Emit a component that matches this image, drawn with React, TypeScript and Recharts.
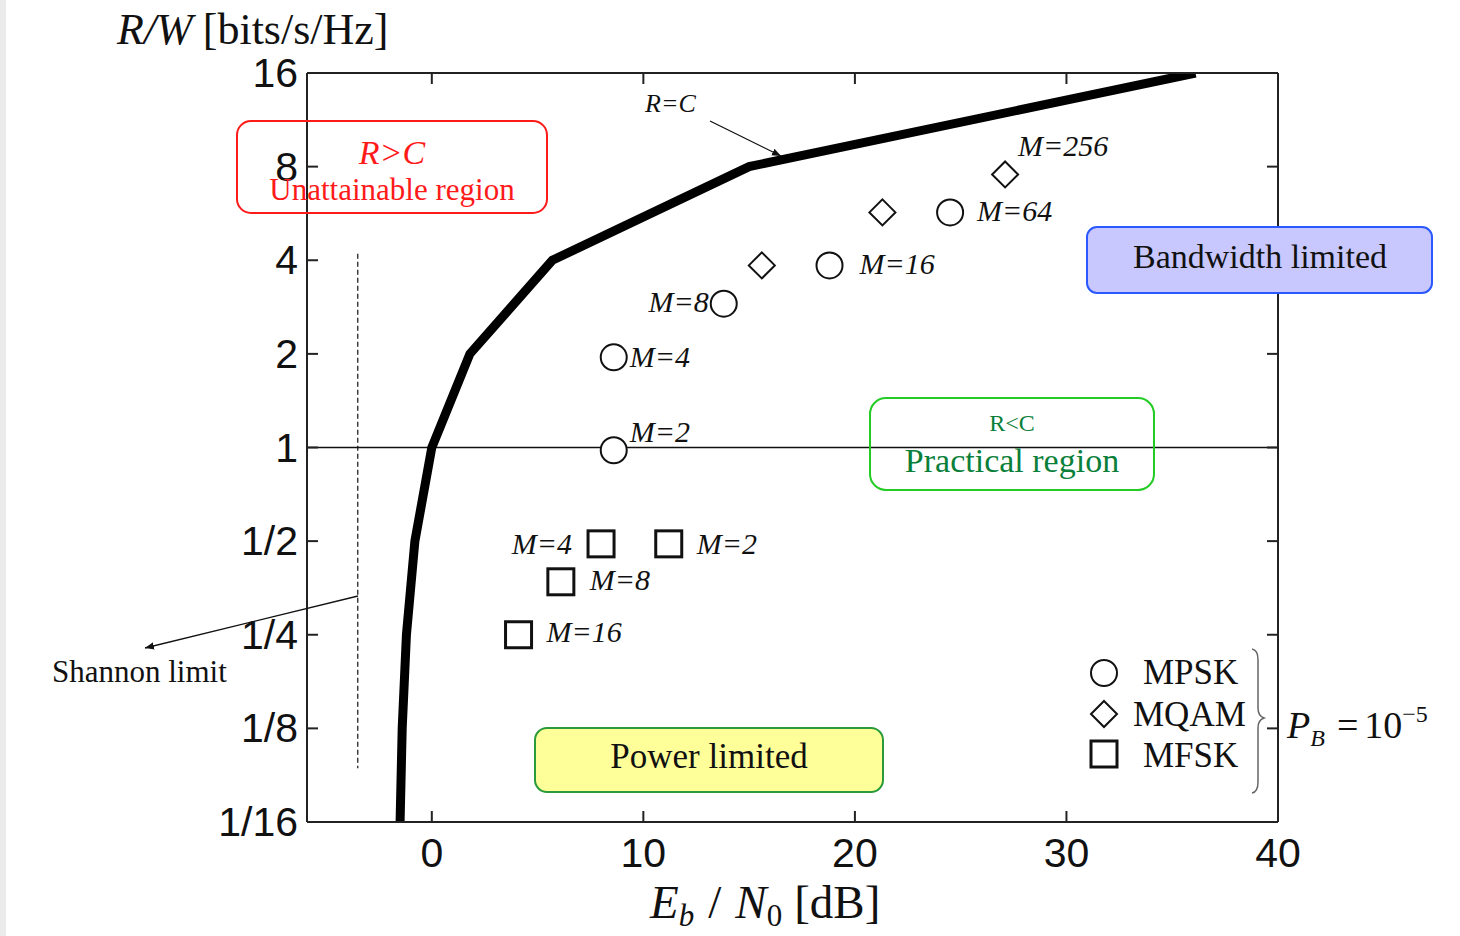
import React from "react";
import { ComposedChart, Line, Scatter, XAxis, YAxis, ReferenceLine } from "recharts";

// Shannon capacity curve R = C, read at each octave of R/W
const capacityEb = [-1.5, -1.4, -1.2, -0.8, 0, 1.8, 5.7, 15.0, 36.1];
const capacityRate = [1 / 16, 1 / 8, 1 / 4, 1 / 2, 1, 2, 4, 8, 16];

// MPSK points (P_B = 1e-5)
const mpskLabels = ["M=2", "M=4", "M=8", "M=16", "M=64"];
const mpskEb = [8.6, 8.6, 13.8, 18.8, 24.5];
const mpskRate = [0.98, 1.95, 2.9, 3.85, 5.7];

// MQAM points
const mqamLabels = ["M=16", "M=64", "M=256"];
const mqamEb = [15.6, 21.3, 27.1];
const mqamRate = [3.85, 5.7, 7.55];

// MFSK points
const mfskLabels = ["M=2", "M=4", "M=8", "M=16"];
const mfskEb = [11.2, 8.0, 6.1, 4.1];
const mfskRate = [0.49, 0.49, 0.37, 0.25];

// dashed Shannon limit marker
const shannonEb = [-3.5, -3.5];
const shannonRate = [4.2, 0.093];

const xTicks = [0, 10, 20, 30, 40];
const yTicks = [1 / 16, 1 / 8, 1 / 4, 1 / 2, 1, 2, 4, 8, 16];
const yTickLabels = ["1/16", "1/8", "1/4", "1/2", "1", "2", "4", "8", "16"];

const zip = (eb: number[], rate: number[], labels?: string[]) =>
  eb.map((e, i) => ({ eb: e, rate: rate[i], m: labels ? labels[i] : "" }));

const capacity = zip(capacityEb, capacityRate);
const mpsk = zip(mpskEb, mpskRate, mpskLabels);
const mqam = zip(mqamEb, mqamRate, mqamLabels);
const mfsk = zip(mfskEb, mfskRate, mfskLabels);
const shannon = zip(shannonEb, shannonRate);

const serif = "'Liberation Serif', 'Times New Roman', serif";
const sans = "'Liberation Sans', Arial, sans-serif";
const ink = "#111";

// where each marker's label sits relative to the marker
const labelPlace: Record<string, [number, number, "start" | "end"]> = {
  "psk-M=2": [16, -19, "start"],
  "psk-M=4": [16, -1, "start"],
  "psk-M=8": [-15, -2, "end"],
  "psk-M=16": [30, -2, "start"],
  "psk-M=64": [27, -2, "start"],
  "qam-M=256": [13, -29, "start"],
  "fsk-M=2": [28, 0, "start"],
  "fsk-M=4": [-29, 0, "end"],
  "fsk-M=8": [29, -2, "start"],
  "fsk-M=16": [28, -3, "start"],
};

const circleMark = (cx: number, cy: number) => (
  <circle cx={cx} cy={cy} r={13} fill="#fff" stroke={ink} strokeWidth={2} />
);
const diamondMark = (cx: number, cy: number) => (
  <path
    d={`M${cx},${cy - 13} L${cx + 13},${cy} L${cx},${cy + 13} L${cx - 13},${cy} Z`}
    fill="#fff"
    stroke={ink}
    strokeWidth={2}
  />
);
const squareMark = (cx: number, cy: number) => (
  <rect x={cx - 13} y={cy - 13} width={26} height={26} fill="#fff" stroke={ink} strokeWidth={3} />
);

const makeShape = (kind: string, draw: (x: number, y: number) => React.ReactNode) => (props: any) => {
  const { cx, cy, payload } = props;
  const place = labelPlace[`${kind}-${payload.m}`];
  return (
    <g>
      {draw(cx, cy)}
      {place && (
        <text
          x={cx + place[0]}
          y={cy + place[1]}
          textAnchor={place[2]}
          dominantBaseline="central"
          fontFamily={serif}
          fontStyle="italic"
          fontSize={30}
          fill={ink}
        >
          {payload.m}
        </text>
      )}
    </g>
  );
};

const tickIndex = (v: number) => {
  let best = 0;
  yTicks.forEach((t, i) => {
    if (Math.abs(Math.log(t) - Math.log(v)) < Math.abs(Math.log(yTicks[best]) - Math.log(v))) best = i;
  });
  return best;
};

const LeftTick = (props: any) => {
  const { x, y, payload } = props;
  return (
    <g>
      <line x1={x} y1={y} x2={x + 11} y2={y} stroke="#222" strokeWidth={2} />
      <text x={x - 9} y={y} textAnchor="end" dominantBaseline="central" fontFamily={sans} fontSize={41} fill={ink}>
        {yTickLabels[tickIndex(payload.value)]}
      </text>
    </g>
  );
};

const RightTick = (props: any) => {
  const { x, y } = props;
  return <line x1={x} y1={y} x2={x - 11} y2={y} stroke="#222" strokeWidth={2} />;
};

const BottomTick = (props: any) => {
  const { x, y, payload } = props;
  return (
    <g>
      <line x1={x} y1={y} x2={x} y2={y - 11} stroke="#222" strokeWidth={2} />
      <text x={x} y={y + 31} textAnchor="middle" dominantBaseline="central" fontFamily={sans} fontSize={41} fill={ink}>
        {payload.value}
      </text>
    </g>
  );
};

const TopTick = (props: any) => {
  const { x, y } = props;
  return <line x1={x} y1={y} x2={x} y2={y + 11} stroke="#222" strokeWidth={2} />;
};

const Overlay = () => (
  <svg width={1460} height={936} style={{ position: "absolute", left: 0, top: 0, pointerEvents: "none" }}>
    <defs>
      <marker id="ah" viewBox="0 0 10 10" refX="10" refY="5" markerWidth="7" markerHeight="7" orient="auto">
        <path d="M0,1 L10,5 L0,9 Z" fill={ink} />
      </marker>
    </defs>
    <rect x={0} y={0} width={6} height={936} fill="#ebebeb" />

    {/* axis titles */}
    <text x={117} y={44} fontFamily={serif} fontSize={44} fill={ink}>
      <tspan fontStyle="italic">R/W</tspan>
      <tspan dx={10}>[bits/s/Hz]</tspan>
    </text>
    <text x={650} y={918} fontFamily={serif} fontSize={47} fill={ink}>
      <tspan fontStyle="italic">E</tspan>
      <tspan fontStyle="italic" fontSize={31} dy={8}>b</tspan>
      <tspan dy={-8} dx={14}>/</tspan>
      <tspan fontStyle="italic" dx={14}>N</tspan>
      <tspan fontSize={31} dy={8}>0</tspan>
      <tspan dy={-8} dx={12}>[dB]</tspan>
    </text>

    {/* R = C pointer */}
    <text x={645} y={112} fontFamily={serif} fontStyle="italic" fontSize={26} fill={ink}>R=C</text>
    <line x1={710} y1={121} x2={781} y2={156} stroke={ink} strokeWidth={1.3} markerEnd="url(#ah)" />

    {/* Shannon limit pointer */}
    <text x={52} y={682} fontFamily={serif} fontSize={31} fill={ink}>Shannon limit</text>
    <line x1={358} y1={596} x2={145} y2={648} stroke={ink} strokeWidth={1.3} markerEnd="url(#ah)" />

    {/* region boxes */}
    <rect x={237} y={121} width={310} height={92} rx={14} fill="none" stroke="#ff1a1a" strokeWidth={2} />
    <text x={392} y={164} textAnchor="middle" fontFamily={serif} fontStyle="italic" fontSize={34} fill="#ff1a1a">R&gt;C</text>
    <text x={392} y={200} textAnchor="middle" fontFamily={serif} fontSize={31} fill="#ff1a1a">Unattainable region</text>

    <rect x={1087} y={227} width={345} height={66} rx={10} fill="#c8c8ff" stroke="#2b59ff" strokeWidth={2} />
    <text x={1260} y={268} textAnchor="middle" fontFamily={serif} fontSize={34} fill={ink}>Bandwidth limited</text>

    <rect x={870} y={398} width={284} height={92} rx={16} fill="none" stroke="#22cc22" strokeWidth={2} />
    <text x={1012} y={431} textAnchor="middle" fontFamily={serif} fontSize={24} fill="#0a7f3a">R&lt;C</text>
    <text x={1012} y={472} textAnchor="middle" fontFamily={serif} fontSize={34} fill="#0a7f3a">Practical region</text>

    <rect x={535} y={728} width={348} height={64} rx={12} fill="#ffff99" stroke="#2a9a3a" strokeWidth={2} />
    <text x={709} y={768} textAnchor="middle" fontFamily={serif} fontSize={35} fill={ink}>Power limited</text>

    {/* legend */}
    {circleMark(1104, 673)}
    {diamondMark(1104, 714)}
    {squareMark(1104, 754)}
    <text x={1143} y={684} fontFamily={serif} fontSize={35} fill={ink}>MPSK</text>
    <text x={1133} y={726} fontFamily={serif} fontSize={35} fill={ink}>MQAM</text>
    <text x={1143} y={767} fontFamily={serif} fontSize={35} fill={ink}>MFSK</text>
    <path
      d="M1252,649 Q1258,650 1258,660 L1258,708 Q1258,716 1264,718 Q1258,720 1258,728 L1258,782 Q1258,792 1252,793"
      fill="none"
      stroke="#666"
      strokeWidth={1.5}
    />
    <text x={1287} y={738} fontFamily={serif} fontSize={38} fill={ink}>
      <tspan fontStyle="italic">P</tspan>
      <tspan fontStyle="italic" fontSize={24} dy={8}>B</tspan>
      <tspan dy={-8} dx={12}>=</tspan>
      <tspan dx={6}>10</tspan>
      <tspan fontSize={24} dy={-16}>−5</tspan>
    </text>
  </svg>
);

const App: React.FC = () => {
  return (
    <div style={{ position: "absolute", left: 0, top: 0, width: 1460, height: 936, background: "#fff" }}>
      <ComposedChart width={1460} height={936} margin={{ top: 53, right: 162, bottom: 0, left: 0 }}>
        <XAxis
          xAxisId="main"
          type="number"
          dataKey="eb"
          domain={[-5.9, 40]}
          ticks={xTicks}
          allowDataOverflow
          height={114}
          tickSize={0}
          tickMargin={0}
          tickLine={false}
          axisLine={{ stroke: "#222", strokeWidth: 2 }}
          tick={<BottomTick />}
        />
        <XAxis
          xAxisId="top"
          orientation="top"
          type="number"
          dataKey="eb"
          domain={[-5.9, 40]}
          ticks={xTicks}
          allowDataOverflow
          height={20}
          tickSize={0}
          tickMargin={0}
          tickLine={false}
          axisLine={{ stroke: "#222", strokeWidth: 2 }}
          tick={<TopTick />}
        />
        <YAxis
          yAxisId="main"
          type="number"
          dataKey="rate"
          scale="log"
          domain={[1 / 16, 16]}
          ticks={yTicks}
          allowDataOverflow
          width={307}
          tickSize={0}
          tickMargin={0}
          tickLine={false}
          axisLine={{ stroke: "#222", strokeWidth: 2 }}
          tick={<LeftTick />}
        />
        <YAxis
          yAxisId="right"
          orientation="right"
          type="number"
          dataKey="rate"
          scale="log"
          domain={[1 / 16, 16]}
          ticks={yTicks}
          allowDataOverflow
          width={20}
          tickSize={0}
          tickMargin={0}
          tickLine={false}
          axisLine={{ stroke: "#222", strokeWidth: 2 }}
          tick={<RightTick />}
        />
        <ReferenceLine xAxisId="main" yAxisId="main" y={1} stroke={ink} strokeWidth={1.5} />
        <Line
          xAxisId="top"
          yAxisId="right"
          data={shannon}
          dataKey="rate"
          type="linear"
          stroke={ink}
          strokeWidth={1.2}
          strokeDasharray="5 3"
          dot={false}
          isAnimationActive={false}
        />
        <Line
          xAxisId="main"
          yAxisId="main"
          data={capacity}
          dataKey="rate"
          type="linear"
          stroke="#000"
          strokeWidth={9}
          dot={false}
          isAnimationActive={false}
        />
        <Scatter xAxisId="main" yAxisId="main" data={mpsk} shape={makeShape("psk", circleMark)} isAnimationActive={false} />
        <Scatter xAxisId="main" yAxisId="main" data={mqam} shape={makeShape("qam", diamondMark)} isAnimationActive={false} />
        <Scatter xAxisId="main" yAxisId="main" data={mfsk} shape={makeShape("fsk", squareMark)} isAnimationActive={false} />
      </ComposedChart>
      <Overlay />
    </div>
  );
};

export default App;
